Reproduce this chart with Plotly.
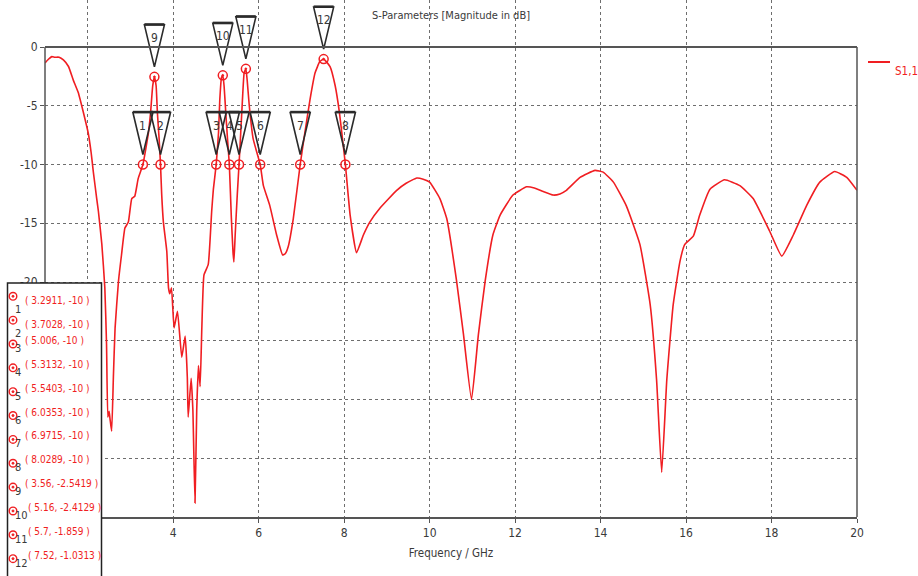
import plotly.graph_objects as go

# S1,1 magnitude (dB) versus frequency (GHz)
freq_ghz = [
    1.00, 1.08, 1.16, 1.23, 1.33, 1.43, 1.55, 1.66, 1.78, 1.90, 2.01, 2.08, 2.13, 2.21,
    2.25, 2.33, 2.40, 2.44, 2.47, 2.50, 2.52, 2.56, 2.60, 2.64, 2.72, 2.79, 2.87, 2.95,
    3.03, 3.10, 3.18, 3.2911, 3.42, 3.47, 3.52, 3.56, 3.60, 3.63, 3.67, 3.7028, 3.73,
    3.77, 3.85, 3.89, 3.92, 3.96, 4.02, 4.10, 4.20, 4.28, 4.33, 4.35, 4.42, 4.46, 4.51,
    4.55, 4.59, 4.63, 4.67, 4.72, 4.82, 4.90, 4.94, 5.006, 5.06, 5.09, 5.13, 5.16, 5.19,
    5.23, 5.27, 5.3132, 5.36, 5.40, 5.42, 5.45, 5.50, 5.5403, 5.58, 5.62, 5.66, 5.70,
    5.73, 5.78, 5.87, 6.0353, 6.11, 6.26, 6.42, 6.56, 6.62, 6.69, 6.81, 6.9715, 7.08,
    7.20, 7.32, 7.43, 7.52, 7.67, 7.79, 7.89, 7.96, 8.0289, 8.14, 8.29, 8.45, 8.60, 8.84,
    9.23, 9.45, 9.70, 9.85, 10.00, 10.24, 10.40, 10.63, 10.79, 10.98, 11.14, 11.30, 11.48,
    11.65, 11.95, 12.27, 12.45, 12.66, 12.89, 13.05, 13.20, 13.52, 13.87, 14.06, 14.30,
    14.60, 14.92, 15.16, 15.31, 15.43, 15.55, 15.70, 15.86, 15.97, 16.17, 16.32, 16.56,
    16.90, 17.26, 17.57, 17.96, 18.24, 18.51, 18.82, 19.13, 19.48, 19.76, 20.00,
]
s11_db = [
    -1.35, -1.04, -0.82, -0.87, -0.87, -1.1, -1.66, -2.8, -3.9, -5.6, -7.3, -9.0, -10.6, -12.9,
    -14.0, -16.8, -20.5, -25.3, -31.5, -31.0, -31.6, -32.7, -28.1, -23.9, -19.9, -17.7, -15.4, -14.9,
    -12.9, -12.7, -11.2, -10.0, -7.3, -5.6, -3.3, -2.5419, -3.3, -5.6, -7.8, -10.0, -12.5,
    -14.9, -17.4, -20.5, -21.0, -20.5, -23.9, -22.5, -26.4, -24.6, -28.1, -31.5, -28.2, -30.9, -38.8,
    -30.9, -27.1, -28.9, -23.9, -19.4, -18.5, -14.0, -12.1, -10.0, -7.3, -4.5, -2.6, -2.4129, -3.3,
    -5.6, -7.8, -10.0, -14.5, -17.5, -18.3, -16.0, -12.5, -10.0, -7.3, -4.5, -2.2, -1.859,
    -2.8, -5.0, -7.8, -10.0, -11.8, -13.5, -16.0, -17.7, -17.6, -17.0, -14.6, -10.0, -7.3,
    -4.5, -2.2, -1.24, -1.0313, -1.66, -3.3, -5.6, -7.8, -10.0, -14.3, -17.5, -16.0, -14.9, -13.7,
    -12.2, -11.6, -11.15, -11.25, -11.5, -12.9, -14.6, -19.9, -24.4, -30.0, -24.5, -19.9, -16.0,
    -14.3, -12.6, -11.9, -12.0, -12.3, -12.6, -12.5, -12.2, -11.1, -10.5, -10.65, -11.5,
    -13.5, -16.8, -21.9, -28.3, -36.2, -28.3, -21.9, -18.2, -16.8, -16.1, -14.3, -12.1,
    -11.3, -11.8, -12.9, -15.7, -17.8, -16.0, -13.5, -11.5, -10.6, -11.1, -12.2,
]

# Curve markers
marker_ids = [1, 2, 3, 4, 5, 6, 7, 8, 9, 10, 11, 12]
marker_freq = [3.2911, 3.7028, 5.006, 5.3132, 5.5403, 6.0353, 6.9715, 8.0289, 3.56, 5.16, 5.7, 7.52]
marker_db = [-10, -10, -10, -10, -10, -10, -10, -10, -2.5419, -2.4129, -1.859, -1.0313]

x_ticks = [2, 4, 6, 8, 10, 12, 14, 16, 18, 20]
x_ticktext = ["", "4", "6", "8", "10", "12", "14", "16", "18", "20"]
y_ticks = [0, -5, -10, -15, -20, -25, -30, -35]
y_ticktext = ["0", "-5", "-10", "-15", "-20", "", "", ""]

RED = "rgb(240,30,34)"
FRAME = "#555555"
TEXT = "#3a3a3a"
FONT = "DejaVu Sans Condensed, Liberation Sans Narrow, sans-serif"

W, H = 918, 576
ML, MR, MT, MB = 45, 61, 0, 59
PW, PH = W - ML - MR, H - MT - MB


def px_to_paper(px, py):
    return (px - ML) / PW, (MT + PH - py) / PH


fig = go.Figure()

fig.add_trace(go.Scatter(
    x=freq_ghz, y=s11_db, mode="lines", name="S1,1",
    line=dict(color=RED, width=1.6, shape="spline", smoothing=0.4),
    showlegend=False, hoverinfo="x+y",
))

fig.add_trace(go.Scatter(
    x=marker_freq, y=marker_db, mode="markers", showlegend=False,
    marker=dict(symbol="circle-open-dot", size=9, color=RED, line=dict(width=1.5, color=RED)),
    cliponaxis=False,
))

shapes = []
annotations = []

# Numbered flag triangles above each marker
for mid, f, d in zip(marker_ids, marker_freq, marker_db):
    shapes.append(dict(
        type="path", xref="x", yref="y", xsizemode="pixel", ysizemode="pixel",
        xanchor=f, yanchor=d, path="M -10,52 L 10,52 L 0,10 Z",
        line=dict(color="#2b2b2b", width=1.6), fillcolor="rgba(255,255,255,0)", layer="above",
    ))
    shapes.append(dict(
        type="path", xref="x", yref="y", xsizemode="pixel", ysizemode="pixel",
        xanchor=f, yanchor=d, path="M -10,52.5 L 10,52.5",
        line=dict(color="#2b2b2b", width=2.4), layer="above",
    ))
    annotations.append(dict(
        x=f, y=d, xref="x", yref="y", yshift=39, showarrow=False,
        text=str(mid), font=dict(family=FONT, size=12, color=TEXT),
    ))

# Plot frame: top and side borders end at 0 dB
shapes += [
    dict(type="line", xref="paper", yref="y", x0=0, x1=1, y0=0, y1=0,
         line=dict(color=FRAME, width=2), layer="above"),
    dict(type="line", xref="paper", yref="y", x0=0, x1=0, y0=-40, y1=0,
         line=dict(color=FRAME, width=1.5), layer="above"),
    dict(type="line", xref="paper", yref="y", x0=1, x1=1, y0=-40, y1=0,
         line=dict(color=FRAME, width=1.5), layer="above"),
]

# Marker readout box
bx0, by0 = px_to_paper(7.5, 283)
bx1, by1 = px_to_paper(101.5, 600)
shapes.append(dict(type="rect", xref="paper", yref="paper", x0=bx0, x1=bx1, y0=by1, y1=by0,
                   line=dict(color="#222222", width=1.5), fillcolor="white", layer="above"))

row_y0, row_dy = 299.3, 23.85
for i, (mid, f, d) in enumerate(zip(marker_ids, marker_freq, marker_db)):
    ry = row_y0 + i * row_dy
    cx, cy = px_to_paper(13, ry - 3)
    shapes.append(dict(type="circle", xref="paper", yref="paper", xsizemode="pixel",
                       ysizemode="pixel", xanchor=cx, yanchor=cy, x0=-3.8, x1=3.8, y0=-3.8, y1=3.8,
                       line=dict(color=RED, width=1.4), layer="above"))
    shapes.append(dict(type="circle", xref="paper", yref="paper", xsizemode="pixel",
                       ysizemode="pixel", xanchor=cx, yanchor=cy, x0=-1, x1=1, y0=-1, y1=1,
                       line=dict(color=RED, width=1), fillcolor=RED, layer="above"))
    nx, ny = px_to_paper(13, ry + 10)
    annotations.append(dict(x=nx, y=ny, xref="paper", yref="paper", xanchor="left",
                            showarrow=False, text=str(mid),
                            font=dict(family=FONT, size=11, color=TEXT)))
    tx, ty = px_to_paper(23 if mid < 10 else 26, ry + 1)
    annotations.append(dict(x=tx, y=ty, xref="paper", yref="paper", xanchor="left",
                            showarrow=False, text=f"( {f:g}, {d:g} )",
                            font=dict(family=FONT, size=10, color=RED)))

# Trace legend (top right)
lx0, ly = px_to_paper(868, 62)
lx1, _ = px_to_paper(890, 62)
shapes.append(dict(type="line", xref="paper", yref="paper", x0=lx0, x1=lx1, y0=ly, y1=ly,
                   line=dict(color=RED, width=2)))
tx, _ = px_to_paper(893, 62)
annotations.append(dict(x=tx, y=ly, xref="paper", yref="paper", xanchor="left",
                        showarrow=False, text="S1,1",
                        font=dict(family=FONT, size=11.5, color=RED)))

fig.update_layout(
    width=W, height=H,
    margin=dict(l=ML, r=MR, t=MT, b=MB),
    paper_bgcolor="white", plot_bgcolor="white",
    font=dict(family=FONT, size=12, color=TEXT),
    title=dict(text="S-Parameters [Magnitude in dB]", x=(451 / W), xanchor="center",
               y=1 - 15 / H, yanchor="middle", yref="container",
               font=dict(family=FONT, size=11, color=TEXT)),
    xaxis=dict(
        range=[1, 20], tickvals=x_ticks, ticktext=x_ticktext,
        showgrid=True, gridcolor="#6e6e6e", gridwidth=1.4, griddash="dot",
        showline=True, linecolor=FRAME, linewidth=1.5,
        ticks="outside", ticklen=4, tickcolor=FRAME,
        zeroline=False, tickfont=dict(size=12, color=TEXT),
        title=dict(text="Frequency / GHz", standoff=10, font=dict(size=11.5, color=TEXT)),
    ),
    yaxis=dict(
        range=[-40, 4.0], tickvals=y_ticks, ticktext=y_ticktext,
        showgrid=True, gridcolor="#6e6e6e", gridwidth=1.4, griddash="dot",
        showline=False, zeroline=False,
        ticks="outside", ticklen=4, tickcolor=FRAME,
        tickfont=dict(size=12, color=TEXT),
    ),
    shapes=shapes,
    annotations=annotations,
)

fig.write_html("out.html")
